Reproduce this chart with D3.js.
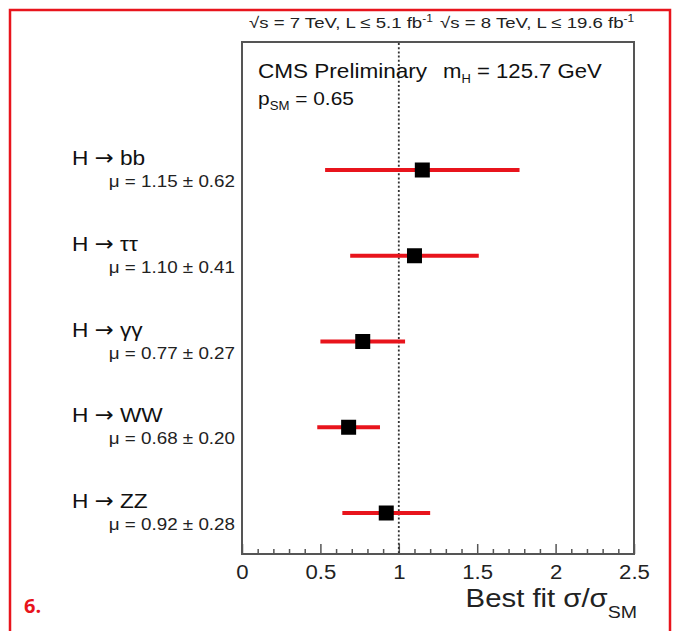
<!DOCTYPE html>
<html>
<head>
<meta charset="utf-8">
<script src="https://cdn.jsdelivr.net/npm/d3@7"></script>
<style>
  html, body { margin: 0; padding: 0; background: #fff; }
  svg { display: block; font-family: "Liberation Sans", Arial, Helvetica, sans-serif; }
</style>
</head>
<body>
<svg id="chart" width="675" height="631"></svg>
<script>
// Decay channels, top to bottom
const channels = ["bb", "ττ", "γγ", "WW", "ZZ"];
// Best-fit signal strength and its uncertainty per channel
const muValues = [1.15, 1.10, 0.77, 0.68, 0.92];
const muErrors = [0.62, 0.41, 0.27, 0.20, 0.28];
// Axis ticks
const majorTicks = [0, 0.5, 1, 1.5, 2, 2.5];
const minorTicks = d3.range(0, 25).map(i => i / 10).filter(v => Math.round(v * 10) % 5 !== 0);
const smLine = 1;

const svg = d3.select("#chart");

// Text drawn with a slight horizontal stretch (wide sans look)
function wideText(parent, x, y, sx, size) {
  return parent.append("text")
    .attr("transform", `translate(${x},${y}) scale(${sx},1)`)
    .attr("font-size", size);
}

// Page frame (red, open at the bottom)
svg.append("path")
  .attr("d", "M10,631 V10 H670 V631")
  .attr("fill", "none")
  .attr("stroke", "#e8141c")
  .attr("stroke-width", 2.5);

// Figure number
svg.append("text")
  .attr("x", 24).attr("y", 613)
  .attr("fill", "#e8141c")
  .attr("font-family", "'Open Sans', sans-serif")
  .attr("font-weight", "bold")
  .attr("font-size", 20)
  .text("6.");

const plot = { left: 242, right: 634, top: 42, bottom: 554 };

const x = d3.scaleLinear().domain([0, 2.5]).range([plot.left, plot.right]);
const y = d3.scalePoint().domain(channels).range([170, 513]);

// Frame of the plot area
svg.append("rect")
  .attr("x", plot.left).attr("y", plot.top)
  .attr("width", plot.right - plot.left)
  .attr("height", plot.bottom - plot.top)
  .attr("fill", "none")
  .attr("stroke", "#555")
  .attr("stroke-width", 2);

// Ticks along the bottom, pointing inward
const minorAxis = d3.axisBottom(x).tickValues(minorTicks).tickSize(-5).tickFormat("");
const majorAxis = d3.axisBottom(x).tickValues(majorTicks).tickSize(-10).tickPadding(10)
  .tickFormat(d => d3.format("")(d));

const gMinor = svg.append("g").attr("transform", `translate(0,${plot.bottom})`).call(minorAxis);
const gMajor = svg.append("g").attr("transform", `translate(0,${plot.bottom})`).call(majorAxis);
[gMinor, gMajor].forEach(g => {
  g.select(".domain").remove();
  g.selectAll(".tick line").attr("stroke", "#555").attr("stroke-width", 1.5);
});
gMajor.selectAll(".tick text")
  .attr("fill", "#222")
  .attr("font-size", 20.5)
  .attr("transform", "scale(1.08,1)")
  .attr("font-family", "'Liberation Sans', Arial, sans-serif");

// Axis title
const xTitle = wideText(svg, 637, 607, 1.15, 25.5)
  .attr("text-anchor", "end")
  .attr("fill", "#222");
xTitle.append("tspan").text("Best fit σ/σ");
xTitle.append("tspan").attr("font-size", 17).attr("dy", 11).text("SM");

// Standard model reference line
svg.append("line")
  .attr("x1", x(smLine)).attr("x2", x(smLine))
  .attr("y1", plot.top + 1).attr("y2", plot.bottom - 1)
  .attr("stroke", "#333")
  .attr("stroke-width", 1.8)
  .attr("stroke-dasharray", "2,2.2");

// Error bars
svg.append("g").selectAll("line")
  .data(channels)
  .join("line")
  .attr("x1", (d, i) => x(muValues[i] - muErrors[i]))
  .attr("x2", (d, i) => x(muValues[i] + muErrors[i]))
  .attr("y1", d => y(d)).attr("y2", d => y(d))
  .attr("stroke", "#e8141c")
  .attr("stroke-width", 4);

// Best-fit markers
const sq = 15;
svg.append("g").selectAll("rect")
  .data(channels)
  .join("rect")
  .attr("x", (d, i) => x(muValues[i]) - sq / 2)
  .attr("y", d => y(d) - sq / 2)
  .attr("width", sq).attr("height", sq)
  .attr("fill", "#000");

// Channel labels
const labelLayer = svg.append("g");
channels.forEach((d, i) => {
  const t = wideText(labelLayer, 72, y(d) - 5, 1.08, 21).attr("fill", "#111");
  t.append("tspan").text("H ");
  t.append("tspan").attr("font-family", "'DejaVu Sans', sans-serif").attr("font-size", 21).text("→");
  t.append("tspan").text(" " + d);

  wideText(labelLayer, 235, y(d) + 17, 1.14, 16.5)
    .attr("text-anchor", "end")
    .attr("fill", "#222")
    .text(`μ = ${muValues[i].toFixed(2)} ± ${muErrors[i].toFixed(2)}`);
});

// Energy / luminosity header
const header = wideText(svg, 249, 28, 1.2, 15.5).attr("fill", "#222");
header.append("tspan").text("√s = 7 TeV, L ≤ 5.1 fb");
header.append("tspan").attr("font-size", 10).attr("dy", -6).text("-1");
header.append("tspan").attr("dy", 6).attr("dx", 6).text("√s = 8 TeV, L ≤ 19.6 fb");
header.append("tspan").attr("font-size", 10).attr("dy", -6).text("-1");

// Legend text inside the plot
wideText(svg, 258, 78, 1.1, 20.5)
  .attr("fill", "#111")
  .text("CMS Preliminary");
const mh = wideText(svg, 443, 78, 1.08, 20.5).attr("fill", "#111");
mh.append("tspan").text("m");
mh.append("tspan").attr("font-size", 12).attr("dy", 5).text("H");
mh.append("tspan").attr("dy", -5).text(" = 125.7 GeV");

const psm = wideText(svg, 258, 105, 1.1, 19).attr("fill", "#111");
psm.append("tspan").text("p");
psm.append("tspan").attr("font-size", 12).attr("dy", 5).text("SM");
psm.append("tspan").attr("dy", -5).text(" = 0.65");
</script>
</body>
</html>
